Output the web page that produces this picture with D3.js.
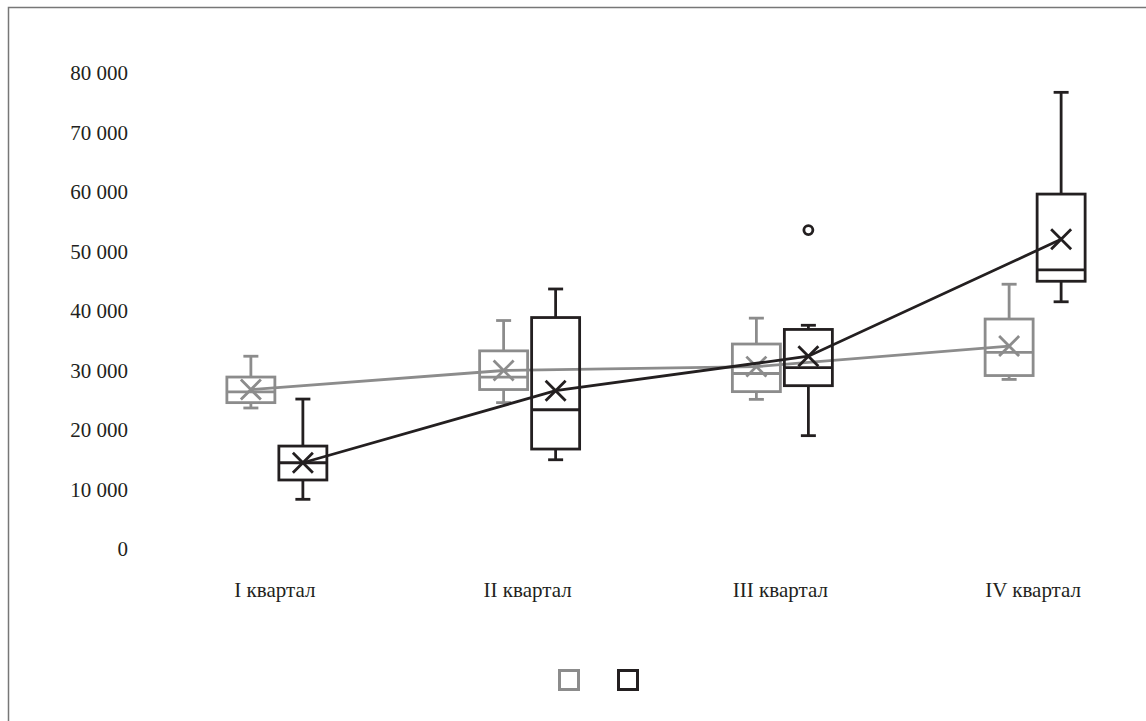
<!DOCTYPE html>
<html>
<meta charset="utf-8">
<style type="text/css">
	body { margin: 0; background: #fff; }
	.axis .domain { display: none; }
</style>
<svg width="1146" height="721"></svg>
<script src="https://cdn.jsdelivr.net/npm/d3@7"></script>
<script>
	// quarters
	var categories = ['I квартал', 'II квартал', 'III квартал', 'IV квартал'];
	var yTicks = [0, 10000, 20000, 30000, 40000, 50000, 60000, 70000, 80000];

	// series 1 (grey)
	var greyMin    = [23700, 24600, 25150, 28500];
	var greyQ1     = [24600, 26800, 26450, 29150];
	var greyMedian = [26400, 28900, 29500, 33050];
	var greyQ3     = [28900, 33300, 34450, 38650];
	var greyMax    = [32400, 38400, 38800, 44500];
	var greyMean   = [26800, 30000, 30650, 34100];

	// series 2 (black)
	var blackMin    = [8350, 15000, 19050, 41550];
	var blackQ1     = [11600, 16800, 27450, 45000];
	var blackMedian = [14500, 23400, 30500, 46900];
	var blackQ3     = [17300, 38900, 36900, 59650];
	var blackMax    = [25200, 43700, 37600, 76750];
	var blackMean   = [14500, 26600, 32400, 52050];
	var blackOutliers = [[], [], [53600], []];

	var series = [
		{ color: '#8c8c8c', offset: -26, min: greyMin, q1: greyQ1, med: greyMedian, q3: greyQ3, max: greyMax, mean: greyMean, out: [[], [], [], []] },
		{ color: '#231f20', offset: 26, min: blackMin, q1: blackQ1, med: blackMedian, q3: blackQ3, max: blackMax, mean: blackMean, out: blackOutliers }
	];

	var serif = '"Liberation Serif", "Times New Roman", "DejaVu Serif", serif';
	var svg = d3.select('svg');

	// frame
	svg.append('path')
		.attr('d', 'M8.5,721 V7.5 H1146')
		.attr('fill', 'none')
		.attr('stroke', '#777')
		.attr('stroke-width', 1.5);

	var y = d3.scaleLinear().domain([0, 80000]).range([549, 73]);
	var x = d3.scaleBand().domain(categories).range([150.5, 1161.5]);

	var loc = d3.formatLocale({ decimal: ',', thousands: ' ', grouping: [3], currency: ['', ''] });
	var fmt = loc.format(',d');

	var yAxis = svg.append('g')
		.attr('class', 'axis')
		.attr('transform', 'translate(128,0)')
		.call(d3.axisLeft(y).tickValues(yTicks).tickSize(0).tickPadding(0).tickFormat(fmt));

	var xAxis = svg.append('g')
		.attr('class', 'axis')
		.attr('transform', 'translate(-2,582)')
		.call(d3.axisBottom(x).tickSize(0).tickPadding(0));

	[yAxis, xAxis].forEach(function (a) {
		a.attr('font-family', null).attr('font-size', null);
		a.selectAll('text')
			.style('font-family', serif)
			.style('font-size', '21px')
			.style('fill', '#231f20');
	});

	var bw = 48, cap = 15, xs = 10;

	series.forEach(function (s) {
		var g = svg.append('g')
			.attr('stroke', s.color)
			.attr('fill', 'none')
			.attr('stroke-width', 2.8);

		var cx = function (i) { return x(categories[i]) + x.bandwidth() / 2 + s.offset; };

		// mean line
		g.append('path')
			.attr('d', d3.line().x(function (d, i) { return cx(i); }).y(function (d) { return y(d); })(s.mean));

		categories.forEach(function (c, i) {
			var mx = cx(i);
			// whiskers
			g.append('line').attr('x1', mx).attr('x2', mx).attr('y1', y(s.max[i])).attr('y2', y(s.q3[i]));
			g.append('line').attr('x1', mx).attr('x2', mx).attr('y1', y(s.q1[i])).attr('y2', y(s.min[i]));
			g.append('line').attr('x1', mx - cap / 2).attr('x2', mx + cap / 2).attr('y1', y(s.max[i])).attr('y2', y(s.max[i]));
			g.append('line').attr('x1', mx - cap / 2).attr('x2', mx + cap / 2).attr('y1', y(s.min[i])).attr('y2', y(s.min[i]));
			// box
			g.append('rect')
				.attr('x', mx - bw / 2)
				.attr('y', y(s.q3[i]))
				.attr('width', bw)
				.attr('height', y(s.q1[i]) - y(s.q3[i]));
			g.append('line').attr('x1', mx - bw / 2).attr('x2', mx + bw / 2).attr('y1', y(s.med[i])).attr('y2', y(s.med[i]));
			// mean marker
			var my = y(s.mean[i]);
			g.append('path')
				.attr('d', 'M' + (mx - xs) + ',' + (my - xs) + 'L' + (mx + xs) + ',' + (my + xs) +
					'M' + (mx - xs) + ',' + (my + xs) + 'L' + (mx + xs) + ',' + (my - xs));
			// outliers
			s.out[i].forEach(function (v) {
				g.append('circle').attr('cx', mx).attr('cy', y(v)).attr('r', 4.5);
			});
		});
	});

	// legend
	var legend = svg.append('g').attr('transform', 'translate(569,680)');
	series.forEach(function (s, i) {
		legend.append('rect')
			.attr('x', i * 59 - 9.5)
			.attr('y', -9.5)
			.attr('width', 19)
			.attr('height', 19)
			.attr('fill', 'none')
			.attr('stroke', s.color)
			.attr('stroke-width', 3);
	});
</script>
</html>
